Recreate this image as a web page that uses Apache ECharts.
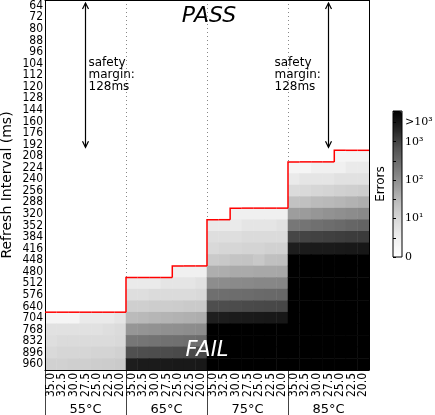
<!DOCTYPE html>
<html>
<head>
<meta charset="utf-8">
<script src="https://cdn.jsdelivr.net/npm/echarts@6/dist/echarts.min.js"></script>
<style>
  html, body { margin: 0; padding: 0; background: #fff; }
  #main { width: 435px; height: 415px; }
</style>
</head>
<body>
<div id="main"></div>
<script>
var temps = ['55°C', '65°C', '75°C', '85°C'];
var voltages = ['35.0', '32.5', '30.0', '27.5', '25.0', '22.5', '20.0'];
var intervals = ['64', '72', '80', '88', '96', '104', '112', '120', '128', '144', '160', '176', '192',
  '208', '224', '240', '256', '288', '320', '352', '384', '416', '448', '480', '512', '576',
  '640', '704', '768', '832', '896', '960'];

var LOG_MAX = 3.8;   // top of colour bar (>10^3)
var S = 9999;        // saturated cells, drawn black
var SAT_ROW = [S, S, S, S, S, S, S];

// errors per refresh interval, one value per voltage column (null = pass)
var errors55 = {
  704: [2, 2, 2, 4, 4, 4, 5],
  768: [6, 6, 6, 6, 6, 7, 8],
  832: [7, 8, 8, 8, 8, 8, 9],
  896: [9, 10, 10, 10, 11, 11, 12],
  960: [12, 12, 13, 13, 14, 15, 16]
};
var errors65 = {
  480: [null, null, null, null, 3, 3, 3],
  512: [4, 4, 4, 5, 5, 5, 6],
  576: [7, 7, 8, 8, 8, 8, 9],
  640: [13, 13, 14, 14, 15, 16, 16],
  704: [28, 30, 32, 34, 36, 38, 40],
  768: [80, 85, 90, 95, 100, 105, 110],
  832: [210, 220, 240, 250, 260, 280, 300],
  896: [750, 780, 800, 820, 850, 880, 900],
  960: [2700, 2800, 2800, 2900, 3000, 3000, 3100]
};
var errors75 = {
  320: [null, null, 3, 3, 3, 3, 3],
  352: [4, 4, 4, 5, 5, 5, 6],
  384: [7, 7, 7, 8, 8, 8, 8],
  416: [9, 10, 10, 11, 11, 12, 12],
  448: [16, 17, 20, 21, 17, 24, 25],
  480: [40, 42, 45, 45, 48, 48, 50],
  512: [105, 110, 115, 120, 125, 125, 130],
  576: [270, 280, 290, 300, 320, 330, 340],
  640: [780, 800, 820, 850, 880, 900, 920],
  704: [2600, 2700, 2800, 2900, 3000, 3100, 3200],
  768: SAT_ROW, 832: SAT_ROW, 896: SAT_ROW, 960: SAT_ROW
};
var errors85 = {
  208: [null, null, null, null, 2, 2, 2],
  224: [2, 2, 3, 3, 3, 4, 4],
  240: [4, 5, 5, 5, 6, 6, 6],
  256: [8, 9, 10, 11, 12, 13, 14],
  288: [22, 24, 28, 30, 32, 36, 40],
  320: [65, 70, 80, 90, 100, 110, 120],
  352: [210, 230, 260, 290, 320, 360, 400],
  384: [950, 1000, 1050, 1100, 1150, 1200, 1250],
  416: [2700, 2800, 2900, 2900, 3000, 3100, 3200],
  448: SAT_ROW, 480: SAT_ROW, 512: SAT_ROW, 576: SAT_ROW, 640: SAT_ROW,
  704: SAT_ROW, 768: SAT_ROW, 832: SAT_ROW, 896: SAT_ROW, 960: SAT_ROW
};

// safety margin arrows: [column, from interval, to interval, text side]
var marginArrows = [[3, '64', '192', 1], [24, '64', '192', -1]];
var marginText = 'safety\nmargin:\n128ms';

var greys = ['#ffffff', '#f0f0f0', '#d9d9d9', '#bdbdbd', '#969696', '#737373', '#525252', '#252525', '#000000'];
var colLabels = [];
var groupStarts = [];
temps.forEach(function (t, g) {
  groupStarts.push(g * voltages.length);
  colLabels = colLabels.concat(voltages);
});

var cells = [];
var firstFail = [];
[errors55, errors65, errors75, errors85].forEach(function (tbl, g) {
  Object.keys(tbl).forEach(function (key) {
    var r = intervals.indexOf(key);
    tbl[key].forEach(function (v, j) {
      if (v == null) return;
      var c = g * voltages.length + j;
      cells.push([c, r, Math.min(Math.log10(v), LOG_MAX)]);
      if (firstFail[c] == null || r < firstFail[c]) firstFail[c] = r;
    });
  });
});
var edges = firstFail.map(function (r, c) {
  return [c, r, c > 0 ? firstFail[c - 1] : r];
});
var arrows = marginArrows.map(function (a) {
  return [a[0], intervals.indexOf(a[1]), intervals.indexOf(a[2]), a[3]];
});

var FONT = 'DejaVu Sans';
var TICK_FONT = "'DejaVu Sans Condensed', 'Liberation Sans Narrow', 'DejaVu Sans'";
var dotted = { show: true, lineStyle: { color: '#888', width: 1, type: [1, 3] } };
var black = { color: '#000', width: 1 };

var chart = echarts.init(document.getElementById('main'));
chart.setOption({
  animation: false,
  textStyle: { fontFamily: FONT },
  grid: [
    { left: 45, top: 0, width: 324, height: 370, outerBoundsMode: 'none', containLabel: false },
    { left: 393, top: 111, width: 9, height: 146, show: true, z: 10, outerBoundsMode: 'none',
      containLabel: false, backgroundColor: 'rgba(0,0,0,0)', borderColor: '#000', borderWidth: 1 }
  ],
  xAxis: [
    { type: 'category', data: colLabels, position: 'bottom', z: 5,
      axisLine: { lineStyle: black },
      axisTick: { inside: true, length: 4, alignWithLabel: true, interval: 0, lineStyle: black },
      axisLabel: { rotate: 90, margin: 3, interval: 0, fontSize: 12, color: '#000', fontFamily: TICK_FONT },
      splitLine: { show: false } },
    { type: 'category', data: colLabels, position: 'top', z: 5,
      axisLine: { lineStyle: black },
      axisTick: { inside: true, length: 3, alignWithLabel: true, interval: 0, lineStyle: black },
      axisLabel: { show: false } },
    { type: 'category', data: temps, position: 'bottom', z: 0,
      axisLine: { show: false }, axisTick: { show: false },
      axisLabel: { margin: 33, fontSize: 13, color: '#000' },
      splitLine: dotted },
    { type: 'value', gridIndex: 1, show: false, min: 0, max: 1 },
    { type: 'value', position: 'bottom', min: 0, max: colLabels.length,
      axisLine: { show: false }, axisLabel: { show: false }, splitLine: { show: false },
      axisTick: { show: true, customValues: groupStarts, length: 45, lineStyle: { color: '#444', width: 1 } } }
  ],
  yAxis: [
    { type: 'category', data: intervals, inverse: true, position: 'left', z: 5,
      name: 'Refresh Interval (ms)', nameLocation: 'middle', nameGap: 31, nameMoveOverlap: false,
      nameTextStyle: { fontSize: 14, color: '#000' },
      axisLine: { lineStyle: black },
      axisTick: { inside: true, length: 4, alignWithLabel: true, interval: 0, lineStyle: black },
      axisLabel: { margin: 2, interval: 0, fontSize: 12, color: '#000', fontFamily: TICK_FONT },
      splitLine: { show: false } },
    { type: 'category', data: intervals, inverse: true, position: 'right', z: 5,
      axisLine: { lineStyle: black },
      axisTick: { inside: true, length: 4, alignWithLabel: true, interval: 0, lineStyle: black },
      axisLabel: { show: false },
      splitLine: { show: true, interval: function (i) { return intervals[i] === '208'; },
        lineStyle: dotted.lineStyle } },
    { type: 'value', gridIndex: 1, position: 'left', min: 0, max: LOG_MAX, interval: 0.5, z: 10,
      name: 'Errors', nameLocation: 'middle', nameGap: 6, nameMoveOverlap: false,
      nameTextStyle: { fontSize: 12, color: '#000' },
      axisLine: { show: false },
      axisTick: { show: true, inside: true, length: 3, lineStyle: black },
      axisLabel: { show: false }, splitLine: { show: false } },
    { type: 'value', gridIndex: 1, position: 'right', min: 0, max: LOG_MAX, interval: 0.5, z: 10,
      axisLine: { show: false }, axisTick: { show: false }, splitLine: { show: false },
      axisLabel: { margin: 3, fontSize: 11, color: '#000', fontFamily: 'DejaVu Serif',
        showMinLabel: true, showMaxLabel: true,
        formatter: function (v) {
          if (v === 0) return '0';
          if (v === 1) return '10¹';
          if (v === 2) return '10²';
          if (v === 3) return '10³';
          if (v === 3.5) return '>10³';
          return '';
        } } }
  ],
  visualMap: {
    type: 'continuous', seriesIndex: 0, min: 0, max: LOG_MAX, calculable: false,
    orient: 'vertical', left: 393, top: 111, itemWidth: 9, itemHeight: 146, padding: 0,
    inRange: { color: greys }
  },
  graphic: [
    { type: 'text', x: 209, y: 16, z: 20,
      style: { text: 'PASS', font: 'italic 22px DejaVu Sans', fill: '#000', align: 'center', verticalAlign: 'middle' } },
    { type: 'text', x: 207, y: 351, z: 20,
      style: { text: 'FAIL', font: 'italic 21px DejaVu Sans', fill: '#fff', align: 'center', verticalAlign: 'middle' } }
  ],
  series: [
    { type: 'heatmap', data: cells, xAxisIndex: 0, yAxisIndex: 0,
      itemStyle: { borderWidth: 0 }, emphasis: { disabled: true } },
    { type: 'custom', xAxisIndex: 0, yAxisIndex: 0, z: 10, silent: true, data: edges,
      renderItem: function (params, api) {
        var c = api.value(0), r = api.value(1), pr = api.value(2);
        var p = api.coord([c, r]);
        var s = api.size([1, 1]);
        var left = p[0] - s[0] / 2, right = p[0] + s[0] / 2, top = p[1] - s[1] / 2;
        var ptop = api.coord([c, pr])[1] - s[1] / 2;
        return { type: 'polyline', shape: { points: [[left, ptop], [left, top], [right, top]] },
          style: { stroke: '#ff0000', lineWidth: 1.5, fill: null } };
      } },
    { type: 'custom', xAxisIndex: 0, yAxisIndex: 0, z: 11, silent: true, data: arrows,
      renderItem: function (params, api) {
        var c = api.value(0), r0 = api.value(1), r1 = api.value(2), side = api.value(3);
        var s = api.size([1, 1]);
        var x = api.coord([c, r0])[0];
        var y0 = api.coord([c, r0])[1] - s[1] / 2 + 3;
        var y1 = api.coord([c, r1])[1] + s[1] / 2 - 3;
        var st = { stroke: '#000', lineWidth: 1.2, fill: null };
        return { type: 'group', children: [
          { type: 'line', shape: { x1: x, y1: y0, x2: x, y2: y1 }, style: st },
          { type: 'polyline', shape: { points: [[x - 3, y0 + 6], [x, y0], [x + 3, y0 + 6]] }, style: st },
          { type: 'polyline', shape: { points: [[x - 3, y1 - 6], [x, y1], [x + 3, y1 - 6]] }, style: st },
          { type: 'text', style: { text: marginText, x: side > 0 ? x + 3 : x - 54, y: (y0 + y1) / 2,
            font: '12px DejaVu Sans', lineHeight: 12, fill: '#000', align: 'left', verticalAlign: 'middle' } }
        ] };
      } }
  ]
});
</script>
</body>
</html>
